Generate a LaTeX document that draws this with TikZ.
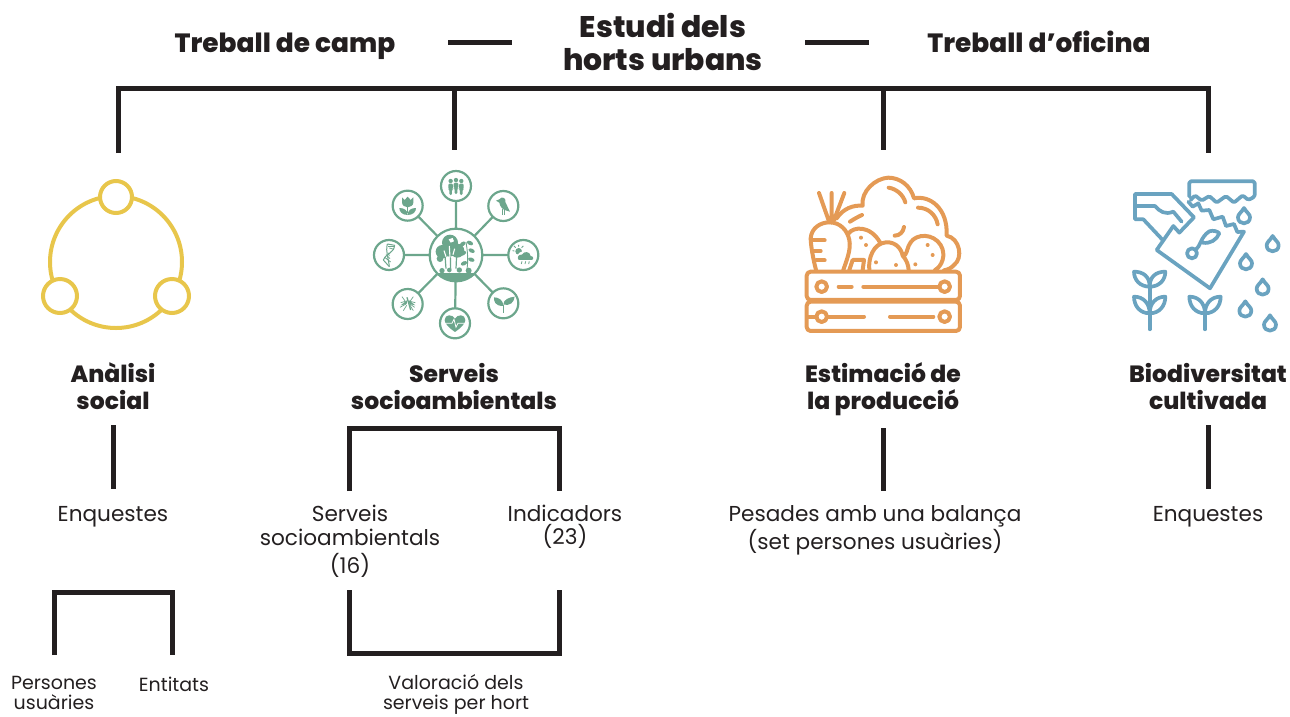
\documentclass[tikz,border=0pt]{standalone}
\usepackage{fontspec}
\setmainfont{Poppins}
\newfontfamily\xb{Poppins ExtraBold}
\definecolor{ink}{HTML}{231F20}
\definecolor{yel}{HTML}{E8C64B}
\definecolor{grn}{HTML}{6CA68C}
\definecolor{org}{HTML}{E49A55}
\definecolor{blu}{HTML}{6AA3C0}
\tikzset{
 bar/.style={draw=ink,line width=5pt,line cap=butt,line join=miter},
 head/.style={font=\fontsize{29.8}{33}\selectfont\xb,align=center,text=ink,inner sep=0pt},
 side/.style={font=\fontsize{26.4}{33}\selectfont\xb,align=center,text=ink,inner sep=0pt},
 ttl/.style={font=\fontsize{23.5}{27}\selectfont\xb,align=center,text=ink,inner sep=0pt},
 body/.style={font=\fontsize{21.6}{24}\selectfont,align=center,text=ink,inner sep=0pt},
 small/.style={font=\fontsize{19}{21.5}\selectfont,align=center,text=ink,inner sep=0pt},
 o/.style={draw=org,line width=4pt,line cap=round,line join=round,fill=none},
 b/.style={draw=blu,line width=3.7pt,line cap=round,line join=round,fill=none},
 g/.style={draw=grn,line width=2.2pt},
}
\begin{document}
\begin{tikzpicture}[x=1pt,y=-1pt]
\useasboundingbox (0,0) rectangle (1290,716);
% header
\node[head,anchor=base] (hd1) at (663,37) {Estudi dels};
\node[head,anchor=base] (hd2) at (663,70) {horts urbans};
\node[side,anchor=base] (camp) at (285,52) {Treball de camp};
\node[side,anchor=base] (ofi) at (1039,52) {Treball d’oficina};
\coordinate (d1a) at (448,42); \coordinate (d1b) at (512,42);
\coordinate (d2a) at (805,42); \coordinate (d2b) at (869,42);
\draw[bar] (d1a)--(d1b);
\draw[bar] (d2a)--(d2b);
% main bracket
\coordinate (m1) at (118,88); \coordinate (m2) at (454,88); \coordinate (m3) at (883,88); \coordinate (m4) at (1208,88);
\coordinate (e1) at (118,153); \coordinate (e2) at (454,150); \coordinate (e3) at (883,150); \coordinate (e4) at (1208,153);
\draw[bar] (e1)--(m1)--(m4)--(e4);
\draw[bar] (m2)--(e2);
\draw[bar] (m3)--(e3);
% titles
\node[ttl,anchor=base] (t1a) at (113,382) {Anàlisi};
\node[ttl,anchor=base] (t1b) at (113,409) {social};
\node[ttl,anchor=base] (t2a) at (454,382) {Serveis};
\node[ttl,anchor=base] (t2b) at (454,409) {socioambientals};
\node[ttl,anchor=base] (t3a) at (883,382) {Estimació de};
\node[ttl,anchor=base] (t3b) at (883,409) {la producció};
\node[ttl,anchor=base] (t4a) at (1208,382) {Biodiversitat};
\node[ttl,anchor=base] (t4b) at (1208,409) {cultivada};
% sub text
\node[body,anchor=base] (b1) at (113,521) {Enquestes};
\node[body,anchor=base] (b2a) at (350,521) {Serveis};
\node[body,anchor=base] (b2b) at (350,545) {socioambientals};
\node[body,anchor=base] (b2c) at (350,573) {(16)};
\node[body,anchor=base] (b3a) at (565,521) {Indicadors};
\node[body,anchor=base] (b3b) at (565,544) {(23)};
\node[body,anchor=base] (b4a) at (875,521) {Pesades amb una balança};
\node[body,anchor=base] (b4b) at (875,549) {(set persones usuàries)};
\node[body,anchor=base] (b5) at (1208,521) {Enquestes};
\node[small,anchor=base] (s1a) at (54,689.5) {Persones};
\node[small,anchor=base] (s1b) at (54,709) {usuàries};
\node[small,anchor=base] (s2) at (174,691) {Entitats};
\node[small,anchor=base] (s3a) at (456,689) {Valoració dels};
\node[small,anchor=base] (s3b) at (456,709) {serveis per hort};
% sub connectors
\coordinate (a1) at (113,425); \coordinate (a2) at (113,489);
\draw[bar] (a1)--(a2);
\coordinate (c1) at (349,491); \coordinate (c2) at (349,428); \coordinate (c3) at (559,428); \coordinate (c4) at (559,491);
\draw[bar] (c1)--(c2)--(c3)--(c4);
\coordinate (f1) at (883,428); \coordinate (f2) at (883,491);
\draw[bar] (f1)--(f2);
\coordinate (h1) at (1208,425); \coordinate (h2) at (1208,489);
\draw[bar] (h1)--(h2);
\coordinate (j1) at (54,655); \coordinate (j2) at (54,592); \coordinate (j3) at (172,592); \coordinate (j4) at (172,655);
\draw[bar] (j1)--(j2)--(j3)--(j4);
\coordinate (k1) at (349,590); \coordinate (k2) at (349,653); \coordinate (k3) at (559,653); \coordinate (k4) at (559,590);
\draw[bar] (k1)--(k2)--(k3)--(k4);
% yellow icon
\draw[yel,line width=4pt] (116,262) circle (66);
\foreach \p/\r in {{(116,197)}/16,{(60,296)}/17,{(172,296)}/17}
 \draw[yel,line width=4pt,fill=white] \p circle (\r);
% green icon (zoom coordinates)
\begin{scope}[shift={(360,160)},x=0.3333pt,y=-0.3333pt]
 \draw[g] (288,78)--(288,285) (430,138)--(288,285) (490,285)--(288,285) (430,430)--(288,285)
   (285,490)--(288,285) (143,432)--(288,285) (87,285)--(288,285) (143,137)--(288,285);
 \foreach \x/\y in {288/78,430/138,490/285,430/430,285/490,143/432,87/285,143/137}
   \draw[g,fill=white] (\x,\y) circle (45);
 \draw[g,fill=white] (288,285) circle (79);
 % ground
 \begin{scope}
  \clip (288,285) circle (78);
  \fill[grn] (200,338) -- (380,338) -- (380,380) -- (200,380) -- cycle;
 \end{scope}
 \fill[grn] (246,332) circle (8) (268,330) circle (7) (298,330) circle (8) (326,332) circle (9);
 % tree canopy
 \fill[grn] (270,248) circle (24) (247,275) circle (20) (292,272) circle (21) (268,270) circle (20) (240,296) circle (10);
 \draw[grn,line width=1.2pt] (255,285)--(258,326) (271,285)--(272,326) (290,285)--(288,326);
 \fill[white] (266,238) -- (278,234) -- (282,244) -- (272,248) -- cycle;
 \draw[white,line width=1.1pt] (268,258)--(270,292) (284,266)--(279,284) (252,272)--(258,290);
 % sprout
 \draw[grn,line width=.9pt] (320,334) .. controls (326,300) and (322,270) .. (318,246);
 \foreach \x/\y/\r in {330/249/-25,308/252/35,335/272/-25,309/280/30,334/299/-20,312/310/25}
   \fill[grn,rotate around={\r:(\x,\y)}] (\x,\y) ellipse (10 and 6);
 % people
 \foreach \x/\yy in {272/0,288/-3,304/0}
   \fill[grn] (\x,63+\yy) circle (6.5);
 \foreach \x/\yy in {272/0,304/0,288/-3}{
   \fill[white,rounded corners=1pt] (\x-8.5,70+\yy) rectangle (\x+8.5,106+\yy);
   \fill[grn,rounded corners=1.2pt] (\x-7,71+\yy) -- (\x+7,71+\yy) -- (\x+7,88+\yy) -- (\x+4,88+\yy) -- (\x+4,105+\yy) -- (\x-4,105+\yy) -- (\x-4,88+\yy) -- (\x-7,88+\yy) -- cycle;
 }
 % bird
 \fill[grn] (408,122) -- (418,118) .. controls (426,106) and (440,116) .. (436,126) -- (450,155) -- (440,152) .. controls (428,150) and (420,140) .. (418,128) -- cycle;
 \draw[grn,line width=.9pt] (427,148)--(427,165) (434,150)--(434,165);
 % cloud + sun
 \draw[grn,line width=.9pt] (476,260) -- (476,255) (458,272)--(463,273) (462,258)--(467,263) (490,258)--(485,263);
 \fill[grn] (476,274) circle (10);
 \fill[white] (490,292) circle (18);
 \fill[grn] (476,300) .. controls (470,292) and (476,282) .. (486,284) .. controls (492,272) and (510,274) .. (512,288) .. controls (522,288) and (522,300) .. (514,300) -- cycle;
 \draw[grn,line width=.8pt] (486,304)--(484,312) (497,304)--(495,312) (508,304)--(506,312);
 % leaves
 \fill[grn] (430,438) .. controls (404,438) and (402,424) .. (402,412) .. controls (416,412) and (430,420) .. (430,438) -- cycle;
 \fill[grn] (430,434) .. controls (430,418) and (448,412) .. (464,410) .. controls (462,428) and (450,438) .. (430,434) -- cycle;
 \draw[grn,line width=1pt] (430,436)--(430,460);
 % heart
 \fill[grn] (285,516) .. controls (265,502) and (254,490) .. (254,480) .. controls (254,462) and (278,462) .. (285,476) .. controls (292,462) and (316,462) .. (316,480) .. controls (316,490) and (305,502) .. (285,516) -- cycle;
 \draw[white,line width=.8pt] (254,490)--(276,490)--(282,478)--(288,502)--(294,490)--(316,490);
 % mosquito
 \draw[grn,line width=1.3pt] (141,412)--(152,450);
 \draw[grn,line width=.7pt] (126,410)--(136,424)--(122,428) (160,410)--(150,424)--(166,428) (120,442)--(138,432) (164,442)--(150,432) (130,452)--(140,436) (160,452)--(150,436);
 \fill[grn] (142,420) -- (122,436) -- (140,432) -- cycle;
 \fill[grn] (146,420) -- (166,436) -- (148,432) -- cycle;
 % dna
 \draw[grn,line width=1pt] (70,300) .. controls (72,285) and (102,280) .. (104,256);
 \draw[grn,line width=1pt] (88,320) .. controls (86,296) and (76,276) .. (82,252);
 \draw[grn,line width=1pt] (70,300) -- (88,320) (82,252) -- (104,256);
 \foreach \x/\y/\u/\v in {74/292/92/306,78/284/90/296,84/278/88/288,88/264/102/268,84/258/104/258}
   \draw[grn,line width=.8pt] (\x,\y)--(\u,\v);
 % tulip
 \fill[grn] (126,112) -- (134,120) -- (143,110) -- (152,120) -- (160,112) -- (160,128) .. controls (160,136) and (150,142) .. (143,142) .. controls (136,142) and (126,136) .. (126,128) -- cycle;
 \draw[grn,line width=1.2pt] (143,140)--(143,160);
 \fill[grn] (143,165) .. controls (126,165) and (118,155) .. (118,144) .. controls (132,144) and (143,150) .. (143,165) -- cycle;
 \fill[grn] (143,165) .. controls (160,165) and (168,155) .. (168,144) .. controls (154,144) and (143,150) .. (143,165) -- cycle;
\end{scope}
% orange icon (zoom coordinates)
\begin{scope}[shift={(790,165)},x=0.3333pt,y=-0.3333pt]
 \draw[o,rounded corners=4pt] (50,320) rectangle (510,405);
 \draw[o,rounded corners=4pt] (50,410) rectangle (510,498);
 \draw[o] (95,365) circle (16) (464,365) circle (16) (95,455) circle (16) (464,455) circle (16);
 \draw[o] (146,365)--(185,365) (220,365)--(448,365) (55,455)--(79,455) (111,455)--(222,455) (300,455)--(430,455);
 % carrot
 \draw[o] (78,315) .. controls (70,285) and (62,240) .. (62,220) .. controls (64,190) and (90,172) .. (118,172) .. controls (150,172) and (172,195) .. (178,225) .. controls (184,255) and (168,290) .. (160,315);
 \draw[o] (118,172)--(87,84) (125,172)--(125,84) (132,165)--(163,84);
 \draw[o] (66,226)--(104,226) (72,258)--(92,258) (78,286)--(104,286);
 % greens
 \draw[o] (140,160) .. controls (160,130) and (190,120) .. (218,122) .. controls (212,80) and (255,40) .. (295,38) .. controls (330,38) and (362,62) .. (372,100) .. controls (420,90) and (474,130) .. (470,212) .. controls (510,220) and (520,280) .. (492,300) .. controls (485,308) and (475,314) .. (462,316);
 \draw[o] (296,68) .. controls (320,72) and (340,90) .. (346,112);
 \draw[o] (384,128) .. controls (415,128) and (438,150) .. (443,178);
 \draw[o] (180,170) .. controls (192,162) and (205,155) .. (216,150);
 \draw[o] (314,212) .. controls (330,212) and (340,200) .. (342,186);
 % potatoes
 \draw[o] (176,205) .. controls (190,185) and (240,180) .. (270,232);
 \draw[o] (238,315) .. controls (234,280) and (250,235) .. (288,232) .. controls (320,230) and (335,255) .. (338,272) .. controls (350,285) and (355,300) .. (356,315);
 \draw[o] (345,270) .. controls (352,262) and (352,245) .. (362,232) .. controls (380,205) and (430,205) .. (452,240) .. controls (470,270) and (455,305) .. (435,315);
 \draw[o] (178,315)--(188,285)--(222,285)--(218,315);
 \fill[org] (213,218) circle (6) (228,240) circle (6) (258,292) circle (6) (318,300) circle (6) (376,298) circle (6) (413,240) circle (6) (428,270) circle (6);
\end{scope}
% blue icon (zoom coordinates)
\begin{scope}[shift={(1120,170)},x=0.3333pt,y=-0.3333pt]
 \draw[b] (130,212) -- (70,148) -- (45,148) -- (45,72) -- (155,72) -- (222,142) -- (178,188) -- (160,168) -- (110,240) -- (270,355) -- (372,185) -- (352,186) -- (342,162) -- (318,168) -- (308,140) -- (280,148) -- (268,120) -- (245,122) -- (235,100) -- (218,110) -- (205,95) ;
 \draw[b] (48,108) -- (105,108) .. controls (120,125) and (135,135) .. (160,125) -- (185,155);
 \draw[b,rounded corners=1.5pt] (208,80) -- (208,34) -- (404,34) -- (404,80) -- (385,90) -- (368,76) -- (342,98) -- (318,78) -- (290,98) -- (268,78) -- (245,92) -- (225,76) -- (212,90);
 % seed on packet
 \draw[b] (216,250) circle (15);
 \draw[b] (228,238) .. controls (240,232) and (242,200) .. (268,184) .. controls (280,180) and (292,184) .. (298,190) .. controls (290,210) and (270,222) .. (248,218);
 % drops
 \foreach \x/\y in {372/138,458/222,378/276,428/352,376/418,450/460}
   \draw[b] (\x,\y-24) .. controls (\x+8,\y-10) and (\x+18,\y-6) .. (\x+18,\y+4) .. controls (\x+18,\y+28) and (\x-18,\y+28) .. (\x-18,\y+4) .. controls (\x-18,\y-6) and (\x-8,\y-10) .. (\x,\y-24) -- cycle;
 % plants
 \draw[b] (89,350)--(89,478);
 \draw[b] (89,350) .. controls (60,350) and (42,330) .. (42,305) .. controls (70,305) and (89,320) .. (89,350) .. controls (89,320) and (108,305) .. (136,305) .. controls (136,330) and (118,350) .. (89,350);
 \draw[b] (89,430) .. controls (60,430) and (42,408) .. (42,380) .. controls (70,380) and (89,400) .. (89,430) .. controls (89,400) and (108,380) .. (136,380) .. controls (136,408) and (118,430) .. (89,430);
 \draw[b] (255,478)--(255,430);
 \draw[b] (255,430) .. controls (226,430) and (208,408) .. (208,380) .. controls (236,380) and (255,400) .. (255,430) .. controls (255,400) and (274,380) .. (302,380) .. controls (302,408) and (284,430) .. (255,430);
\end{scope}
\end{tikzpicture}
\end{document}
